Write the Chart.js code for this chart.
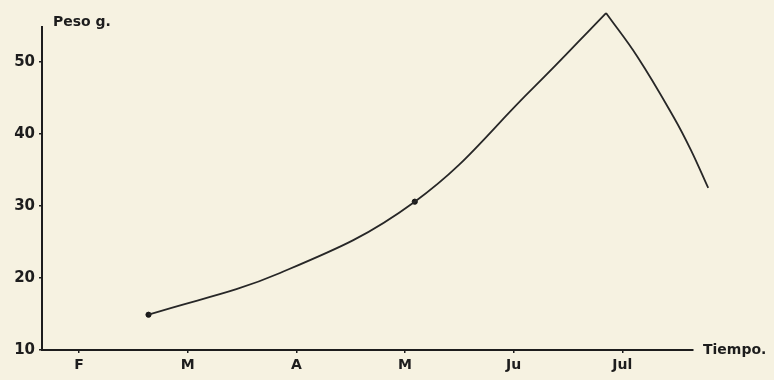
<!DOCTYPE html>
<html lang="es">
<head>
<meta charset="UTF-8">
<title>Peso g. / Tiempo</title>
<script src="https://cdn.jsdelivr.net/npm/chart.js@4.4.0/dist/chart.umd.min.js"></script>
<style>
    body { margin: 0; background: #f6f2e1; }
    .chart-container { position: relative; width: 774px; height: 380px; }
</style>
</head>
<body>
<div class="chart-container"><canvas id="pesoChart"></canvas></div>
<script>
    // x positions are months (F = 2 ... Jul = 7)
    const monthValues = [2, 3, 4, 5, 6, 7];
    const monthLabels = ['F', 'M', 'A', 'M', 'Ju', 'Jul'];
    const yTicks = [10, 20, 30, 40, 50];

    // measured points
    const sampleMonths = [2.64, 5.09, 6.85, 7.79];
    const sampleWeights = [14.9, 30.6, 56.8, 32.5];

    // hand drawn curve
    const riseMonths = [2.64, 3.85, 5.09, 6.18, 6.85];
    const riseWeights = [14.9, 20.7, 30.6, 46.4, 56.8];
    const fallMonths = [6.85, 7.14, 7.47, 7.63, 7.79];
    const fallWeights = [56.8, 50.7, 42.4, 37.8, 32.5];

    const ink = '#1d1d1d';
    const toXY = (xs, ys) => xs.map((x, i) => ({ x: x, y: ys[i] }));

    const axisTitles = {
        id: 'axisTitles',
        afterDraw(chart) {
            const { ctx, chartArea } = chart;
            ctx.save();
            ctx.fillStyle = ink;
            ctx.font = 'bold 14px "DejaVu Sans"';
            ctx.textBaseline = 'middle';
            ctx.fillText('Peso g.', chartArea.left + 11, 22);
            ctx.fillText('Tiempo.', chartArea.right + 10, chartArea.bottom);
            ctx.restore();
        }
    };

    const curveStyle = {
        type: 'line',
        borderColor: '#272727',
        borderWidth: 1.8,
        pointRadius: 0,
        tension: 0.4,
        capBezierPoints: false,
        clip: false
    };

    new Chart(document.getElementById('pesoChart'), {
        type: 'scatter',
        data: {
            datasets: [
                Object.assign({ label: 'subida', data: toXY(riseMonths, riseWeights) }, curveStyle),
                Object.assign({ label: 'bajada', data: toXY(fallMonths, fallWeights) }, curveStyle),
                {
                    label: 'Peso',
                    data: toXY(sampleMonths, sampleWeights),
                    backgroundColor: '#1a1a1a',
                    borderColor: '#1a1a1a',
                    pointRadius: 2.6,
                    clip: false
                }
            ]
        },
        options: {
            responsive: true,
            maintainAspectRatio: false,
            animation: false,
            layout: { padding: { top: 27, right: 81, left: 0, bottom: 0 } },
            plugins: { legend: { display: false }, tooltip: { enabled: false } },
            scales: {
                x: {
                    type: 'linear',
                    min: 1.66,
                    max: 7.65,
                    afterBuildTicks: s => { s.ticks = monthValues.map(v => ({ value: v })); },
                    afterFit: s => { s.height = 30; },
                    ticks: {
                        color: ink,
                        padding: 4,
                        font: { family: 'DejaVu Sans', size: 14, weight: 'bold' },
                        callback: v => monthLabels[monthValues.indexOf(v)]
                    },
                    grid: { drawOnChartArea: false, tickLength: 3, color: ink, lineWidth: 1.5 },
                    border: { color: ink, width: 2 }
                },
                y: {
                    min: 10,
                    max: 54.86,
                    afterBuildTicks: s => { s.ticks = yTicks.map(v => ({ value: v })); },
                    afterFit: s => { s.width = 42; },
                    ticks: {
                        color: ink,
                        padding: 4,
                        font: { family: 'DejaVu Sans', size: 15, weight: 'bold' }
                    },
                    grid: { drawOnChartArea: false, tickLength: 3, color: ink, lineWidth: 1.5 },
                    border: { color: ink, width: 2 }
                }
            }
        },
        plugins: [axisTitles]
    });
</script>
</body>
</html>
